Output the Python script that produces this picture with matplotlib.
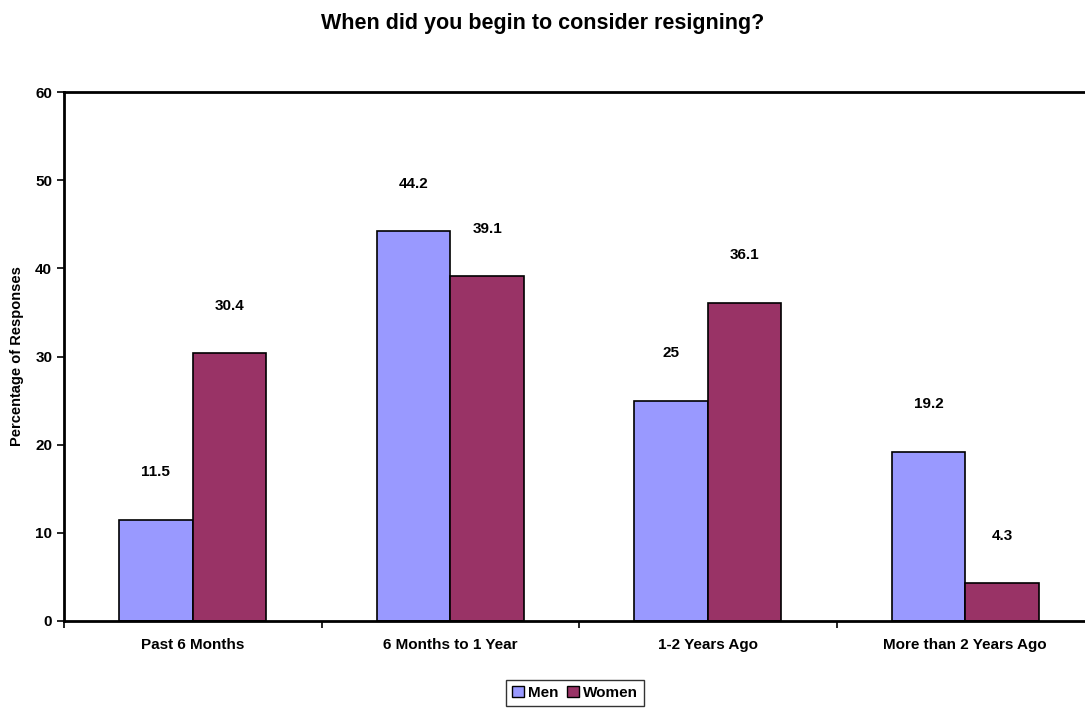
import numpy as np
from matplotlib import pyplot as plt
from matplotlib.patches import Patch

categories = ["Past 6 Months", "6 Months to 1 Year", "1-2 Years Ago", "More than 2 Years Ago"]
men = [11.5, 44.2, 25, 19.2]
women = [30.4, 39.1, 36.1, 4.3]
yticks = [0, 10, 20, 30, 40, 50, 60]

plt.rcParams['font.family'] = ['Liberation Sans', 'DejaVu Sans']
plt.rcParams['font.weight'] = 'bold'
fs = 11

fig = plt.figure(figsize=(10.85, 7.08), dpi=100)
ax = fig.add_axes([64 / 1085, 1 - 621 / 708, 1030 / 1085, 529 / 708])

x = np.arange(len(categories))
w = 0.286
b1 = ax.bar(x - w / 2, men, w, color='#9999ff', edgecolor='black', linewidth=1.2, label='Men')
b2 = ax.bar(x + w / 2, women, w, color='#993366', edgecolor='black', linewidth=1.2, label='Women')

for bars, vals in ((b1, men), (b2, women)):
    for r, v in zip(bars, vals):
        ax.annotate(f"{v:g}", (r.get_x() + r.get_width() / 2, v), xytext=(0, 34),
                    textcoords='offset points', ha='center', va='center',
                    fontsize=fs, fontweight='bold')

ax.set_xlim(-0.5, len(categories) - 0.5)
ax.set_ylim(0, 60)
ax.set_yticks(yticks)
ax.set_xticks(x)
ax.set_xticklabels(categories)
ax.set_xticks(np.arange(len(categories) + 1) - 0.5, minor=True)
ax.tick_params(axis='x', which='major', length=0, pad=12, labelsize=fs)
ax.tick_params(axis='x', which='minor', length=5, width=1.2, direction='out')
ax.tick_params(axis='y', length=5, width=1.2, direction='out', labelsize=fs)
for lab in ax.get_xticklabels() + ax.get_yticklabels():
    lab.set_fontweight('bold')
for s in ['left', 'bottom', 'top']:
    ax.spines[s].set_linewidth(2)
ax.spines['right'].set_visible(False)

ax.set_ylabel("Percentage of Responses", fontsize=10.5, fontweight='bold')
ax.yaxis.set_label_coords(-40 / 1030, 0.5)
fig.text(0.5, 1 - 24 / 708, "When did you begin to consider resigning?", ha='center', va='center',
         fontsize=15.5, fontweight='bold')

handles = [Patch(facecolor='#9999ff', edgecolor='black'), Patch(facecolor='#993366', edgecolor='black')]
fig.legend(handles, ['Men', 'Women'], loc='center', bbox_to_anchor=(575 / 1085, 1 - 693 / 708),
           ncol=2, frameon=True, fancybox=False, edgecolor='black',
           handlelength=0.75, handleheight=0.75, handletextpad=0.25, columnspacing=0.6,
           borderpad=0.4, prop={'weight': 'bold', 'size': fs})

fig.savefig('out.png', dpi=100)
